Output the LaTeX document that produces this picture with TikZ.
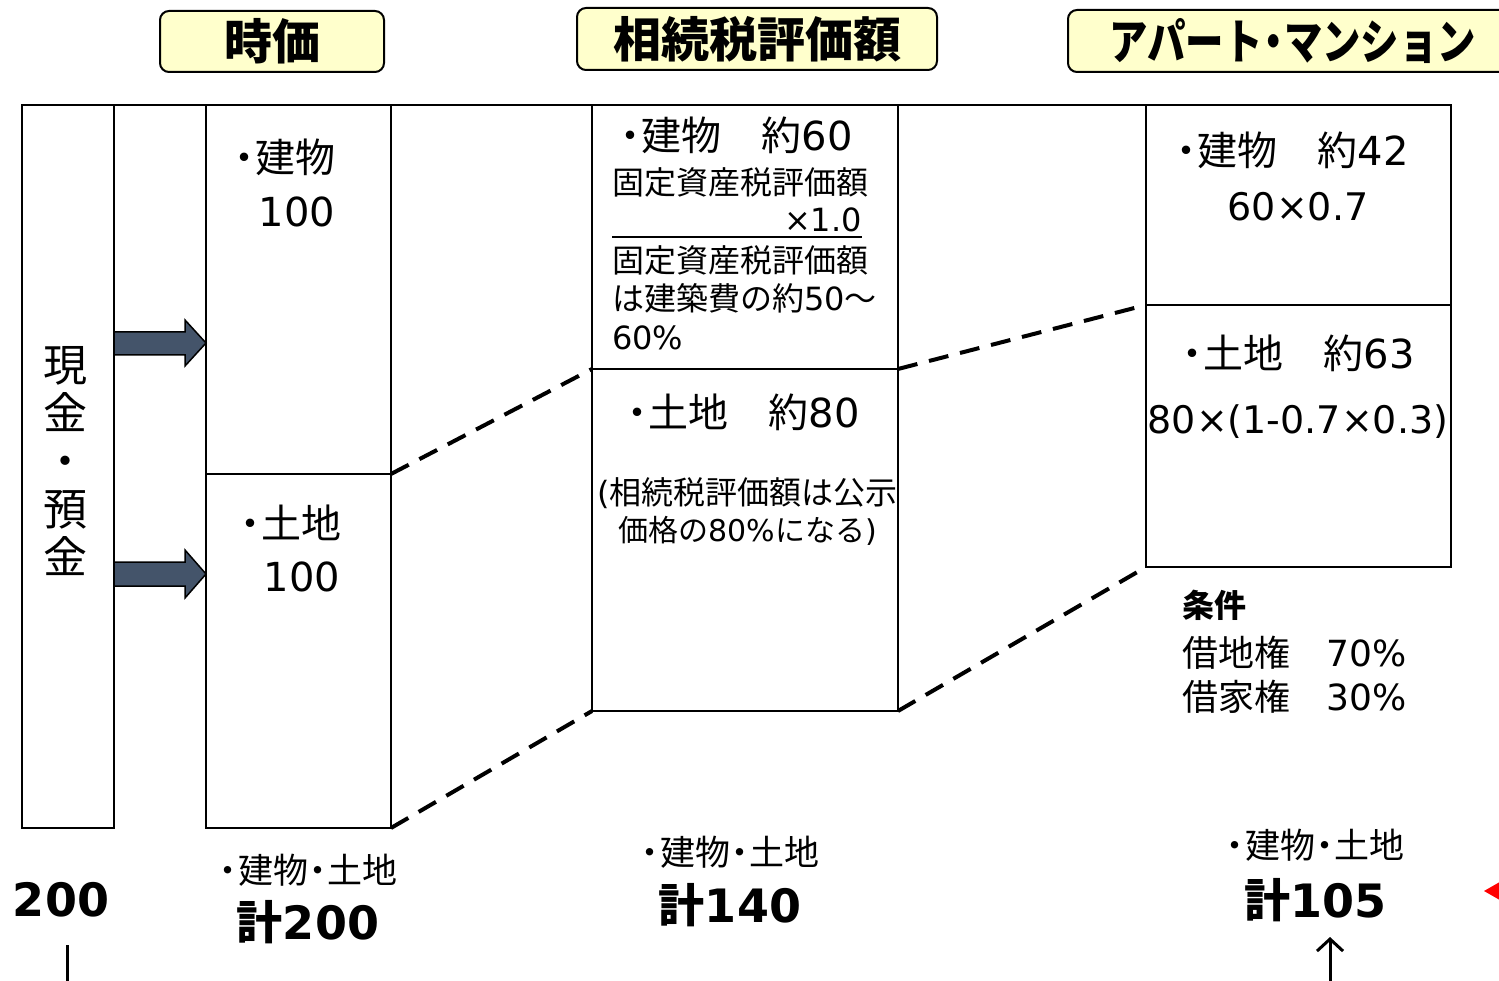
\documentclass[tikz,border=0pt]{standalone}
\usepackage{fontspec}
\setmainfont{DejaVu Sans}
\newfontfamily\jp{Noto Sans CJK JP}
\newcommand\J[1]{{\jp #1}}
\newcommand\dt{\kern-0.22em{\jp ・}\kern-0.22em}
\newcommand\fs[1]{\fontsize{#1}{#1}\selectfont}
\usetikzlibrary{arrows.meta}
\definecolor{hdr}{HTML}{FFFFCC}
\definecolor{arrowfill}{HTML}{44546A}
\begin{document}
\begin{tikzpicture}[x=1pt,y=-1pt,
  box/.style={draw, line width=2pt, inner sep=0pt, outer sep=0pt, anchor=north west},
  dashline/.style={line width=4pt, dash pattern=on 20pt off 12pt},
  header/.style={draw, line width=2pt, rounded corners=9pt, fill=hdr, inner sep=0pt},
  txt/.style={inner sep=0pt},
  blockarrow/.style={draw, line width=1.5pt, fill=arrowfill}]
\useasboundingbox (0,0) rectangle (1499,981);

% headers
\node[header, minimum width=224, minimum height=61] (h1) at (272,41.5)
  {\fs{48}\jp\bfseries 時価};
\node[header, minimum width=360, minimum height=62] (h2) at (757,39)
  {\fs{48}\jp\bfseries 相続税評価額};
\node[header, minimum width=450, minimum height=62] (h3) at (1293,41)
  {\fs{48}\jp\bfseries\scalebox{0.8}[1]{アパート\dt マンション}};

% boxes
\node[box, minimum width=92, minimum height=723] (cash) at (22,105) {};
\node[box, minimum width=185, minimum height=723] (mkt) at (206,105) {};
\node[box, minimum width=306, minimum height=606] (inh) at (592,105) {};
\node[box, minimum width=305, minimum height=462] (apt) at (1146,105) {};
\draw[line width=2pt] (cash.north west) -- (apt.north east);

% dividers
\coordinate (mdl) at (206,474); \coordinate (mdr) at (391,474);
\coordinate (idl) at (592,369); \coordinate (idr) at (898,369);
\coordinate (adl) at (1146,305); \coordinate (adr) at (1451,305);
\draw[line width=1.5pt] (mdl) -- (mdr);
\draw[line width=1.5pt] (idl) -- (idr);
\draw[line width=1.5pt] (adl) -- (adr);

% dashed connectors
\draw[dashline] (mdr) -- (idl);
\draw[dashline] (mkt.south east) -- (inh.south west);
\draw[dashline] (idr) -- (adl);
\draw[dashline] (inh.south east) -- (apt.south west);

% block arrows
\draw[blockarrow] (114,332) -- (185,332) -- (185,320) -- (206,343) -- (185,366) -- (185,355) -- (114,355) -- cycle;
\draw[blockarrow] (114,562) -- (185,562) -- (185,550) -- (206,574) -- (185,598) -- (185,586) -- (114,586) -- cycle;

% cash text
\node[txt, align=center, font=\fontsize{44}{48}\selectfont\jp] (cashtxt) at (65,461) {現\\金\\・\\預\\金};

% market
\node[txt, font=\fs{40}] (mb) at (284,157) {\dt\J{建物}};
\node[txt, font=\fs{40}] (mbv) at (297,212) {100};
\node[txt, font=\fs{40}] (ml) at (290,523) {\dt\J{土地}};
\node[txt, font=\fs{40}] (mlv) at (302,577) {100};

% inheritance
\node[txt, font=\fs{40}] (ib) at (736,135) {\dt\J{建物　約}60};
\node[txt, font=\fs{32}, anchor=west] (ib1) at (612,182) {\J{固定資産税評価額}};
\node[txt, font=\fs{32}, anchor=east] (ib2) at (862,220) {×1.0};
\coordinate (ul1) at (612,237); \coordinate (ul2) at (862,237);
\draw[line width=1.5pt] (ul1) -- (ul2);
\node[txt, font=\fs{32}, anchor=west] (ib3) at (612,260) {\J{固定資産税評価額}};
\node[txt, font=\fs{32}, anchor=west] (ib4) at (612,298) {\J{は建築費の約}50\J{～}};
\node[txt, font=\fs{32}, anchor=west] (ib5) at (612,338) {60\%};
\node[txt, font=\fs{40}] (il) at (743,412) {\dt\J{土地　約}80};
\node[txt, font=\fs{32}, anchor=west] (il1) at (597,493) {(\J{相続税評価額は公示}};
\node[txt, font=\fs{30}] (il2) at (748,531) {\J{価格の}80\%\J{になる})};

% apartment
\node[txt, font=\fs{40}] (ab) at (1292,150) {\dt\J{建物　約}42};
\node[txt, font=\fs{38}] (ab1) at (1298,207) {60×0.7};
\node[txt, font=\fs{40}] (al) at (1298,353) {\dt\J{土地　約}63};
\node[txt, font=\fs{38}] (al1) at (1298,422) {80×(1-0.7×0.3)};
\node[txt, font=\fs{32}\bfseries, anchor=west] (cond) at (1182,605) {\J{条件}};
\node[txt, font=\fs{36}, anchor=west] (c1) at (1182,653) {\J{借地権　}70\%};
\node[txt, font=\fs{36}, anchor=west] (c2) at (1182,697) {\J{借家権　}30\%};

% bottom totals
\node[txt, font=\fs{46}\bfseries] (t0) at (61,900) {200};
\coordinate (l0a) at (67,945); \coordinate (l0b) at (67,985);
\draw[line width=3pt] (l0a) -- (l0b);
\node[txt, font=\fs{35}] (t1a) at (308,870) {\dt\J{建物}\dt\J{土地}};
\node[txt, font=\fs{46}\bfseries] (t1b) at (308,922) {\J{計}200};
\node[txt, font=\fs{35}] (t2a) at (730,852) {\dt\J{建物}\dt\J{土地}};
\node[txt, font=\fs{46}\bfseries] (t2b) at (730,905) {\J{計}140};
\node[txt, font=\fs{35}] (t3a) at (1315,845) {\dt\J{建物}\dt\J{土地}};
\node[txt, font=\fs{46}\bfseries] (t3b) at (1315,900) {\J{計}105};
\coordinate (up1) at (1330,985); \coordinate (up2) at (1330,937);
\draw[line width=3pt, -{Straight Barb[length=12pt, width=26pt]}] (up1) -- (up2);

% red marker
\fill[red] (1484,891) -- (1505,879) -- (1505,903) -- cycle;
\end{tikzpicture}
\end{document}
